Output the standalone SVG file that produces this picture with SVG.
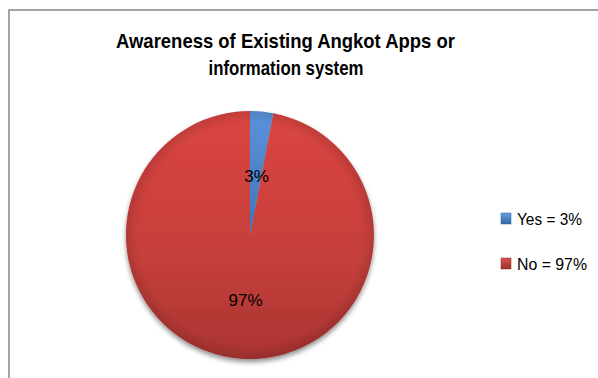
<svg xmlns="http://www.w3.org/2000/svg" width="598" height="378" viewBox="0 0 598 378">
<defs>
<linearGradient id="gRed" x1="0" y1="0" x2="0" y2="1">
<stop offset="0" stop-color="#da4541"/>
<stop offset="0.6" stop-color="#c53f3b"/>
<stop offset="1" stop-color="#a93431"/>
</linearGradient>
<linearGradient id="gBlue" x1="0" y1="0" x2="0" y2="1">
<stop offset="0" stop-color="#5b93dc"/>
<stop offset="1" stop-color="#3e74b8"/>
</linearGradient>
<linearGradient id="gRedM" x1="0" y1="0" x2="0" y2="1">
<stop offset="0" stop-color="#d9534f"/>
<stop offset="1" stop-color="#9e302d"/>
</linearGradient>
<linearGradient id="gBlueM" x1="0" y1="0" x2="0" y2="1">
<stop offset="0" stop-color="#6a9fe0"/>
<stop offset="1" stop-color="#3466a8"/>
</linearGradient>
<filter id="shadow" x="-10%" y="-10%" width="120%" height="125%">
<feGaussianBlur in="SourceAlpha" stdDeviation="2.5"/>
<feOffset dx="0" dy="3" result="b"/>
<feComponentTransfer><feFuncA type="linear" slope="0.45"/></feComponentTransfer>
<feMerge><feMergeNode/><feMergeNode in="SourceGraphic"/></feMerge>
</filter>
<radialGradient id="gEdge" cx="0.5" cy="0.5" r="0.5">
<stop offset="0.9" stop-color="#000" stop-opacity="0"/>
<stop offset="1" stop-color="#000" stop-opacity="0.12"/>
</radialGradient>
</defs>
<style>
.t{font-family:"Liberation Sans",Arial,sans-serif;fill:#000}
.title{font-size:21px;font-weight:bold}
.lbl{font-size:17px}
.leg{font-size:16px}
</style>
<rect x="0" y="0" width="598" height="378" fill="#fff"/>
<rect id="frame" x="9" y="10" width="620" height="400" fill="#fff" stroke="#868686" stroke-width="1.5"/>
<g id="title">
<text class="t title" x="285.5" y="48" text-anchor="middle" textLength="339" lengthAdjust="spacingAndGlyphs">Awareness of Existing Angkot Apps or</text>
<text class="t title" x="286" y="75" text-anchor="middle" textLength="155" lengthAdjust="spacingAndGlyphs">information system</text>
</g>
<g id="pie" filter="url(#shadow)">
<path id="slice-no" d="M250,235 L273.2,113.2 A124,124 0 1 1 250,111 Z" fill="url(#gRed)"/>
<path id="slice-yes" d="M250,235 L250,111 A124,124 0 0 1 273.2,113.2 Z" fill="url(#gBlue)"/>
</g>
<circle cx="250" cy="235" r="124" fill="url(#gEdge)"/>
<g id="labels">
<text class="t lbl" x="256.5" y="182" text-anchor="middle">3%</text>
<text class="t lbl" x="245.5" y="306" text-anchor="middle">97%</text>
</g>
<g id="legend">
<g id="legend-yes">
<rect x="501" y="213" width="10" height="11" fill="url(#gBlueM)" stroke="#2f5f9e" stroke-width="0.5"/>
<text class="t leg" x="517" y="225" textLength="65" lengthAdjust="spacingAndGlyphs">Yes = 3%</text>
</g>
<g id="legend-no">
<rect x="501" y="258" width="10" height="11" fill="url(#gRedM)" stroke="#8e2a28" stroke-width="0.5"/>
<text class="t leg" x="517" y="269.5" textLength="70" lengthAdjust="spacingAndGlyphs">No = 97%</text>
</g>
</g>
</svg>
